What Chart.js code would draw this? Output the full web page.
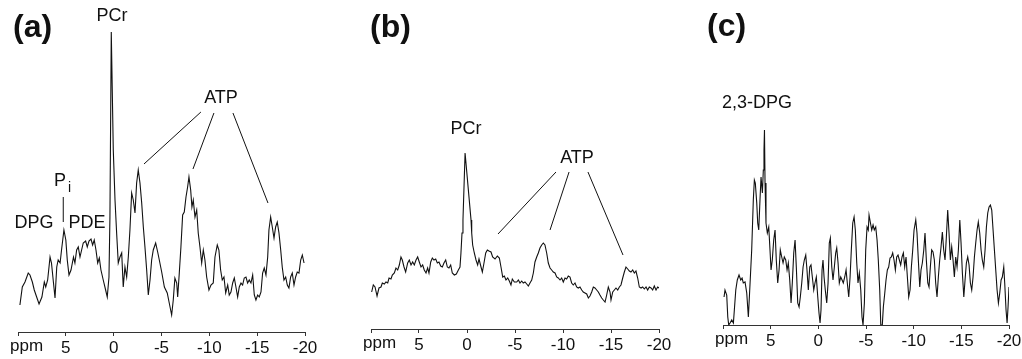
<!DOCTYPE html>
<html>
<head>
<meta charset="utf-8">
<script src="https://cdn.jsdelivr.net/npm/chart.js@4.4.0/dist/chart.umd.min.js"></script>
<style>
body { margin: 0; background: #fff; }
.panel { position: absolute; top: 0; height: 359px; }
</style>
</head>
<body>
<div class="panel" style="left:0;width:340px"><canvas id="chartA"></canvas></div>
<div class="panel" style="left:340px;width:340px"><canvas id="chartB"></canvas></div>
<div class="panel" style="left:680px;width:342px"><canvas id="chartC"></canvas></div>
<script>
// chemical shift axis, ppm
const tickValues = [10, 5, 0, -5, -10, -15, -20];

// (a) spectrum
const ppmA = [9.8,9.55,9.27,8.93,8.75,8.5,8.3,8.05,7.8,7.5,7.25,7.1,6.9,6.65,6.5,6.3,6.13,5.95,5.8,5.6,
  5.45,5.2,5.0,4.85,4.67,4.46,4.2,4.05,3.87,3.7,3.52,3.35,3.18,2.93,2.76,2.58,2.37,2.2,2.03,1.85,
  1.67,1.5,1.33,1.09,0.84,0.67,0.49,0.39,0.25,0.04,-0.14,-0.31,-0.48,-0.66,-0.84,-1.0,-1.18,-1.36,-1.53,-1.7,
  -1.88,-2.05,-2.23,-2.4,-2.57,-2.75,-2.93,-3.1,-3.27,-3.45,-3.62,-3.8,-3.97,-4.14,-4.39,-4.6,-4.77,-5.02,-5.3,-5.6,
  -5.81,-6.06,-6.23,-6.4,-6.59,-6.69,-6.86,-7.03,-7.21,-7.38,-7.56,-7.73,-7.87,-8.05,-8.18,-8.32,-8.5,-8.68,-8.84,-9.02,
  -9.2,-9.37,-9.54,-9.72,-9.96,-10.17,-10.41,-10.59,-10.83,-11.0,-11.18,-11.35,-11.53,-11.71,-11.92,-12.08,-12.26,-12.44,-12.61,-12.78,
  -12.96,-13.13,-13.31,-13.48,-13.65,-13.83,-14.0,-14.17,-14.35,-14.53,-14.7,-14.87,-15.05,-15.22,-15.4,-15.57,-15.74,-15.92,-16.1,-16.23,
  -16.41,-16.58,-16.76,-16.93,-17.1,-17.28,-17.46,-17.62,-17.8,-17.98,-18.15,-18.32,-18.5,-18.67,-18.85,-19.02,-19.19,-19.37,-19.55,-19.72,-19.9];
const intensityA = [27,45,50,59,57,50,42,35,28,35,50,45,52,75,69,50,34,65,72,69,
  82,102,92,72,57,62,75,69,82,85,75,82,89,91,85,91,93,87,92,82,
  69,74,62,52,42,35,55,115,300,182,132,99,69,75,79,45,65,55,75,102,
  139,132,119,149,162,149,129,105,85,62,37,52,72,82,89,80,72,60,45,39,
  29,17,32,54,49,35,59,85,117,120,135,145,155,142,125,132,115,122,99,85,
  69,82,72,55,42,47,49,75,87,82,62,52,55,39,47,37,40,49,54,45,
  35,45,49,47,54,55,49,52,49,57,37,32,37,35,40,59,64,57,75,102,
  115,105,94,105,110,99,82,65,52,55,47,44,55,59,47,55,60,59,72,77,69];

// (b) spectrum
const ppmB = [9.93,9.76,9.58,9.37,9.17,8.96,8.82,8.61,8.44,8.26,8.12,7.92,7.78,7.57,7.4,7.22,7.05,6.88,6.74,6.56,
  6.39,6.18,6.01,5.83,5.66,5.49,5.31,5.14,4.97,4.79,4.62,4.45,4.27,4.1,3.96,3.78,3.61,3.44,3.26,3.09,
  2.92,2.74,2.57,2.4,2.22,2.05,1.88,1.7,1.53,1.32,1.11,0.9,0.73,0.63,0.52,0.42,0.2,-0.42,-0.49,-0.59,
  -0.76,-0.94,-1.11,-1.25,-1.46,-1.6,-1.77,-1.95,-2.12,-2.29,-2.5,-2.67,-2.92,-3.16,-3.37,-3.54,-3.72,-3.89,-4.06,-4.24,
  -4.41,-4.58,-4.72,-4.93,-5.18,-5.35,-5.52,-5.7,-5.86,-6.04,-6.22,-6.39,-6.56,-6.74,-6.91,-7.08,-7.26,-7.43,-7.6,-7.78,
  -7.95,-8.12,-8.3,-8.47,-8.65,-8.82,-8.99,-9.17,-9.34,-9.51,-9.69,-9.86,-10.03,-10.21,-10.38,-10.55,-10.73,-10.9,-11.07,-11.25,
  -11.42,-11.59,-11.77,-11.95,-12.11,-12.29,-12.47,-12.64,-12.81,-12.99,-13.16,-13.33,-13.51,-13.68,-13.85,-14.03,-14.2,-14.38,-14.55,-14.72,
  -14.9,-15.0,-15.18,-15.35,-15.52,-15.7,-15.87,-16.04,-16.22,-16.39,-16.56,-16.74,-16.91,-17.08,-17.26,-17.43,-17.6,-17.78,-17.95,-18.13,
  -18.3,-18.47,-18.65,-18.82,-18.99,-19.17,-19.34,-19.51,-19.69,-19.86,-20];
const intensityB = [37,44,42,33,41,42,46,45,47,46,51,50,54,56,61,59,64,72,69,62,
  57,66,69,64,67,64,69,72,67,62,64,59,56,61,56,67,71,69,70,66,
  67,63,62,66,69,62,61,64,56,54,55,59,62,76,96,109,176,109,96,84,
  76,69,64,70,62,57,66,76,79,78,77,72,70,73,71,62,52,53,49,51,
  48,44,50,47,47,49,46,48,46,47,45,43,46,49,56,67,72,76,81,84,
  86,84,76,66,61,59,57,56,52,51,49,51,47,51,50,53,52,46,44,46,
  42,41,42,39,37,36,35,31,33,37,42,41,39,37,34,31,29,27,34,42,
  37,29,37,39,41,39,42,44,51,57,62,60,58,57,59,56,58,51,42,41,
  42,40,42,39,42,41,39,43,39,42,41];

// (c) spectrum
const ppmC = [9.89,9.79,9.61,9.5,9.4,9.26,9.08,8.91,8.81,8.66,8.5,8.32,8.14,8.0,7.87,7.69,7.51,7.34,7.16,6.99,
  6.82,6.71,6.61,6.46,6.36,6.25,6.12,6.01,5.87,5.77,5.7,5.65,5.59,5.49,5.35,5.2,5.07,4.96,4.83,4.68,
  4.54,4.41,4.26,4.12,3.99,3.84,3.7,3.57,3.42,3.28,3.15,3.0,2.86,2.73,2.58,2.44,2.31,2.16,2.02,1.89,
  1.74,1.6,1.47,1.32,1.19,1.05,0.9,0.77,0.63,0.48,0.35,0.21,0.06,-0.07,-0.18,-0.28,-0.39,-0.49,-0.6,-0.73,
  -0.88,-1.02,-1.15,-1.26,-1.41,-1.54,-1.68,-1.82,-1.93,-2.07,-2.2,-2.35,-2.49,-2.62,-2.77,-2.91,-3.04,-3.19,-3.33,-3.46,
  -3.61,-3.75,-3.88,-4.03,-4.16,-4.3,-4.45,-4.58,-4.69,-4.83,-4.97,-5.11,-5.24,-5.32,-5.45,-5.6,-5.74,-5.87,-6.02,-6.16,
  -6.29,-6.44,-6.55,-6.71,-6.82,-6.97,-7.1,-7.24,-7.38,-7.52,-7.66,-7.8,-7.94,-8.08,-8.22,-8.36,-8.5,-8.64,-8.78,-8.92,
  -9.06,-9.2,-9.34,-9.48,-9.62,-9.76,-9.9,-10.04,-10.22,-10.35,-10.49,-10.64,-10.77,-10.91,-11.06,-11.19,-11.33,-11.48,-11.61,-11.75,
  -11.89,-12.03,-12.17,-12.31,-12.45,-12.59,-12.73,-12.87,-13.01,-13.15,-13.29,-13.43,-13.57,-13.71,-13.85,-13.99,-14.13,-14.27,-14.41,-14.55,
  -14.69,-14.84,-14.97,-15.11,-15.26,-15.39,-15.53,-15.67,-15.81,-15.95,-16.09,-16.23,-16.37,-16.51,-16.65,-16.78,-16.93,-17.07,-17.2,-17.35,
  -17.49,-17.63,-17.77,-17.91,-18.05,-18.19,-18.33,-18.47,-18.61,-18.75,-18.89,-19.03,-19.17,-19.3,-19.45,-19.55,-19.69,-19.8,-19.9,-20.0];
const intensityC = [28,35,30,8,0,2,5,2,15,35,45,50,45,47,42,43,32,8,42,75,
  125,145,142,122,102,95,125,148,132,155,175,195,142,102,92,98,75,55,65,85,
  95,65,42,55,75,68,62,68,65,55,62,45,22,42,72,85,58,22,18,28,
  42,58,65,70,55,35,58,60,48,35,42,48,28,12,2,15,55,65,48,35,
  22,42,82,87,58,45,58,72,77,62,42,48,45,42,48,55,42,28,48,75,
  102,108,95,62,42,52,35,8,0,22,75,98,95,110,103,95,100,95,98,85,
  65,35,0,0,18,32,45,55,58,67,68,72,65,55,68,70,65,60,68,72,
  58,68,48,28,35,58,75,95,105,92,65,38,55,62,75,92,65,42,38,58,
  75,73,65,42,28,48,65,78,93,75,65,88,115,92,65,78,65,48,68,58,
  75,105,82,52,28,45,62,68,60,42,35,48,68,82,95,103,92,75,65,58,
  75,98,112,118,120,115,95,75,55,35,22,32,45,48,58,42,15,2,18,38];

// peak labels, placed in (ppm, intensity) units
const labelFont = '18px "Liberation Sans", Arial, sans-serif';
const titleFont = 'bold 32px "Liberation Sans", Arial, sans-serif';
const notesA = {
  texts: [
    { text: '(a)', x: 10.52, y: 304, font: titleFont, align: 'left' },
    { text: 'PCr', x: 0.18, y: 316 },
    { text: 'ATP', x: -11.22, y: 234 },
    { text: 'P', x: 5.61, y: 151 },
    { text: 'i', x: 4.62, y: 144, font: '14px "Liberation Sans", Arial, sans-serif' },
    { text: 'DPG', x: 8.33, y: 109 },
    { text: 'PDE', x: 2.79, y: 109 }
  ],
  lines: [[-9.12, 220, -3.17, 168], [-10.48, 219, -8.29, 163], [-12.47, 219, -16.13, 129], [5.27, 135, 5.27, 110]]
};
const notesB = {
  texts: [
    { text: '(b)', x: 10.1, y: 301, font: titleFont, align: 'left' },
    { text: 'PCr', x: 0.1, y: 200 },
    { text: 'ATP', x: -11.46, y: 171 }
  ],
  lines: [[-9.27, 157, -3.23, 95], [-10.63, 157, -8.65, 99], [-12.6, 157, -16.25, 74]]
};
const notesC = {
  texts: [
    { text: '(c)', x: 11.68, y: 298, font: titleFont, align: 'left' },
    { text: '2,3-DPG', x: 6.43, y: 222 }
  ],
  lines: []
};

const notesPlugin = {
  id: 'notes',
  afterDraw(chart, args, opts) {
    const ctx = chart.ctx, xs = chart.scales.x, ys = chart.scales.y;
    ctx.save();
    ctx.strokeStyle = '#111';
    ctx.fillStyle = '#111';
    ctx.lineWidth = 1;
    (opts.lines || []).forEach(l => {
      ctx.beginPath();
      ctx.moveTo(xs.getPixelForValue(l[0]), ys.getPixelForValue(l[1]));
      ctx.lineTo(xs.getPixelForValue(l[2]), ys.getPixelForValue(l[3]));
      ctx.stroke();
    });
    ctx.textBaseline = 'middle';
    (opts.texts || []).forEach(t => {
      ctx.font = t.font || labelFont;
      ctx.textAlign = t.align || 'center';
      ctx.fillText(t.text, xs.getPixelForValue(t.x), ys.getPixelForValue(t.y));
    });
    // unit label sits where the 10 ppm tick label would be
    ctx.font = '17px "Liberation Sans", Arial, sans-serif';
    ctx.textAlign = 'left';
    ctx.textBaseline = 'alphabetic';
    ctx.fillText('ppm', xs.getPixelForValue(10) - 8, chart.chartArea.bottom + 19);
    ctx.restore();
  }
};

function makeChart(id, ppm, intensity, axisY, padLeft, padRight, notes) {
  return new Chart(document.getElementById(id), {
    type: 'line',
    data: {
      datasets: [{
        data: ppm.map((p, i) => ({ x: p, y: intensity[i] })),
        borderColor: '#111',
        borderWidth: 1.1,
        pointRadius: 0,
        tension: 0,
        fill: false
      }]
    },
    options: {
      responsive: true,
      maintainAspectRatio: false,
      animation: false,
      events: [],
      layout: { padding: { left: padLeft, right: padRight, top: 0, bottom: 359 - axisY - 22 } },
      plugins: { legend: { display: false }, tooltip: { enabled: false }, notes: notes },
      scales: {
        x: {
          type: 'linear',
          min: -20,
          max: 10,
          reverse: true,
          afterBuildTicks: (scale) => { scale.ticks = tickValues.map(v => ({ value: v })); },
          afterFit: (scale) => { scale.height = 22; scale.paddingLeft = 0; scale.paddingRight = 0; },
          border: { display: true, color: '#333', width: 1 },
          grid: { drawOnChartArea: false, drawTicks: true, tickLength: 4, color: '#333' },
          ticks: {
            padding: 2,
            color: '#111',
            maxRotation: 0,
            autoSkip: false,
            font: { family: '"Liberation Sans", Arial, sans-serif', size: 17 },
            callback: (v) => (v === 10 ? '' : String(v))
          }
        },
        y: { display: false, min: 0, max: axisY }
      }
    },
    plugins: [notesPlugin]
  });
}

makeChart('chartA', ppmA, intensityA, 332, 18, 35, notesA);
makeChart('chartB', ppmB, intensityB, 329, 31, 21, notesB);
makeChart('chartC', ppmC, intensityC, 325, 43, 13, notesC);
</script>
</body>
</html>
